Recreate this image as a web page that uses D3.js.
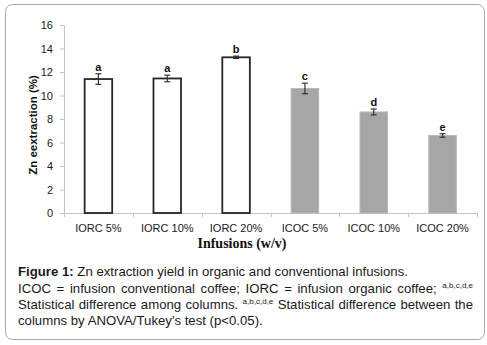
<!DOCTYPE html>
<html>
<head>
<meta charset="utf-8">
<script src="https://cdn.jsdelivr.net/npm/d3@7"></script>
<style>
  body { margin: 0; background: #fff; }
  svg text { font-family: "Liberation Sans", Arial, sans-serif; }
</style>
</head>
<body>
<div id="chart"></div>
<script>
// data
var categories = ["IORC 5%", "IORC 10%", "IORC 20%", "ICOC 5%", "ICOC 10%", "ICOC 20%"];
var values = [11.4, 11.45, 13.25, 10.6, 8.6, 6.6];
var errors = [0.45, 0.28, 0.1, 0.45, 0.25, 0.15];
var letters = ["a", "a", "b", "c", "d", "e"];
var organic = [true, true, true, false, false, false];
var yTicks = [0, 2, 4, 6, 8, 10, 12, 14, 16];

var W = 487, H = 345;
var svg = d3.select("#chart").append("svg")
    .attr("width", W)
    .attr("height", H);

// frame round the whole figure
svg.append("rect")
    .attr("x", 5.5).attr("y", 4.5)
    .attr("width", 479).attr("height", 335)
    .attr("rx", 7).attr("ry", 7)
    .style("fill", "none")
    .style("stroke", "#a8a8a8");

var x = d3.scaleBand().domain(categories).range([64, 477])
    .paddingInner(0.6).paddingOuter(0.3);
var y = d3.scaleLinear().domain([0, 16]).range([213, 25]);

var axisColor = "#c4c4c4";

// y axis
var yAxis = d3.axisLeft(y).tickValues(yTicks).tickSize(4).tickPadding(7);
var gy = svg.append("g")
    .attr("transform", "translate(64,0)")
    .call(yAxis);
gy.select(".domain").style("stroke", axisColor);
gy.selectAll(".tick line").style("stroke", axisColor);
gy.selectAll(".tick text")
    .style("font-size", "11px")
    .style("fill", "#1a1a1a")
    .style("font-family", "'Liberation Sans', Arial, sans-serif");

// x axis line + ticks at band edges
var step = x.step();
svg.append("line")
    .attr("x1", 64).attr("x2", 477)
    .attr("y1", y(0) + 0.5).attr("y2", y(0) + 0.5)
    .style("stroke", axisColor);
svg.selectAll(".xtick")
    .data(d3.range(categories.length + 1))
    .enter()
    .append("line")
    .attr("class", "xtick")
    .attr("x1", function(i){return Math.round(64 + i * step) + 0.5})
    .attr("x2", function(i){return Math.round(64 + i * step) + 0.5})
    .attr("y1", y(0))
    .attr("y2", y(0) + 4)
    .style("stroke", axisColor);

svg.selectAll(".xlabel")
    .data(categories)
    .enter()
    .append("text")
    .attr("class", "xlabel")
    .attr("x", function(d){return x(d) + x.bandwidth() / 2})
    .attr("y", 232)
    .attr("text-anchor", "middle")
    .style("font-size", "11px")
    .style("fill", "#1a1a1a")
    .text(function(d){return d});

// bars
svg.selectAll(".bar")
    .data(categories)
    .enter()
    .append("rect")
    .attr("class", "bar")
    .attr("x", function(d){return x(d)})
    .attr("width", x.bandwidth())
    .attr("y", function(d, i){return y(values[i])})
    .attr("height", function(d, i){return y(0) - y(values[i])})
    .style("fill", function(d, i){return organic[i] ? "#fff" : "#a6a6a6"})
    .style("stroke", function(d, i){return organic[i] ? "#262626" : "#b8b8b8"})
    .style("stroke-width", function(d, i){return organic[i] ? 1.8 : 1});

// error bars
var eb = svg.selectAll(".err")
    .data(categories)
    .enter()
    .append("g")
    .attr("class", "err")
    .attr("transform", function(d){return "translate(" + (x(d) + x.bandwidth() / 2) + ",0)"});
eb.append("line")
    .attr("y1", function(d, i){return y(values[i] + errors[i])})
    .attr("y2", function(d, i){return y(values[i] - errors[i])})
    .style("stroke", "#333").style("stroke-width", 1.2);
eb.append("line")
    .attr("x1", -3).attr("x2", 3)
    .attr("y1", function(d, i){return y(values[i] + errors[i])})
    .attr("y2", function(d, i){return y(values[i] + errors[i])})
    .style("stroke", "#333").style("stroke-width", 1.2);
eb.append("line")
    .attr("x1", -3).attr("x2", 3)
    .attr("y1", function(d, i){return y(values[i] - errors[i])})
    .attr("y2", function(d, i){return y(values[i] - errors[i])})
    .style("stroke", "#333").style("stroke-width", 1.2);

// significance letters
svg.selectAll(".letter")
    .data(categories)
    .enter()
    .append("text")
    .attr("class", "letter")
    .attr("x", function(d){return x(d) + x.bandwidth() / 2})
    .attr("y", function(d, i){return y(values[i] + errors[i]) - 3})
    .attr("text-anchor", "middle")
    .style("font-size", "11px")
    .style("font-weight", "bold")
    .style("fill", "#111")
    .text(function(d, i){return letters[i]});

// axis titles
svg.append("text")
    .attr("transform", "translate(37,125) rotate(-90)")
    .attr("text-anchor", "middle")
    .style("font-size", "11.5px")
    .style("font-weight", "bold")
    .style("fill", "#111")
    .text("Zn eextraction (%)");

svg.append("text")
    .attr("x", 242)
    .attr("y", 248)
    .attr("text-anchor", "middle")
    .style("font-family", "'Liberation Serif', 'Times New Roman', serif")
    .style("font-size", "14px")
    .style("font-weight", "bold")
    .style("fill", "#111")
    .text("Infusions (w/v)");

// caption
var capLeft = 18, capRight = 473, capSize = "13.2px", supSize = "8px";

var l1 = svg.append("text")
    .attr("x", capLeft).attr("y", 276)
    .style("font-size", capSize).style("fill", "#1a1a1a");
l1.append("tspan").style("font-weight", "bold").text("Figure 1:");
l1.append("tspan").text(" Zn extraction yield in organic and conventional infusions.");

var l2 = svg.append("text")
    .attr("x", capLeft).attr("y", 293)
    .style("font-size", capSize).style("fill", "#1a1a1a");
l2.append("tspan").text("ICOC = infusion conventional coffee; IORC = infusion organic coffee; ");
l2.append("tspan").attr("dy", -5).style("font-size", supSize).text("a,b,c,d,e");

var l3 = svg.append("text")
    .attr("x", capLeft).attr("y", 309)
    .style("font-size", capSize).style("fill", "#1a1a1a");
l3.append("tspan").text("Statistical difference among columns. ");
l3.append("tspan").attr("dy", -5).style("font-size", supSize).text("a,b,c,d,e");
l3.append("tspan").attr("dy", 5).text(" Statistical difference between the");

svg.append("text")
    .attr("x", capLeft).attr("y", 325)
    .style("font-size", capSize).style("fill", "#1a1a1a")
    .text("columns by ANOVA/Tukey's test (p<0.05).");

// justify lines 2 and 3 by spreading word spacing
[l2, l3].forEach(function(t){
    var len = t.node().getComputedTextLength();
    var spaces = (t.text().match(/ /g) || []).length;
    var ws = (capRight - capLeft - len) / spaces;
    t.style("word-spacing", ws + "px");
});
</script>
</body>
</html>
